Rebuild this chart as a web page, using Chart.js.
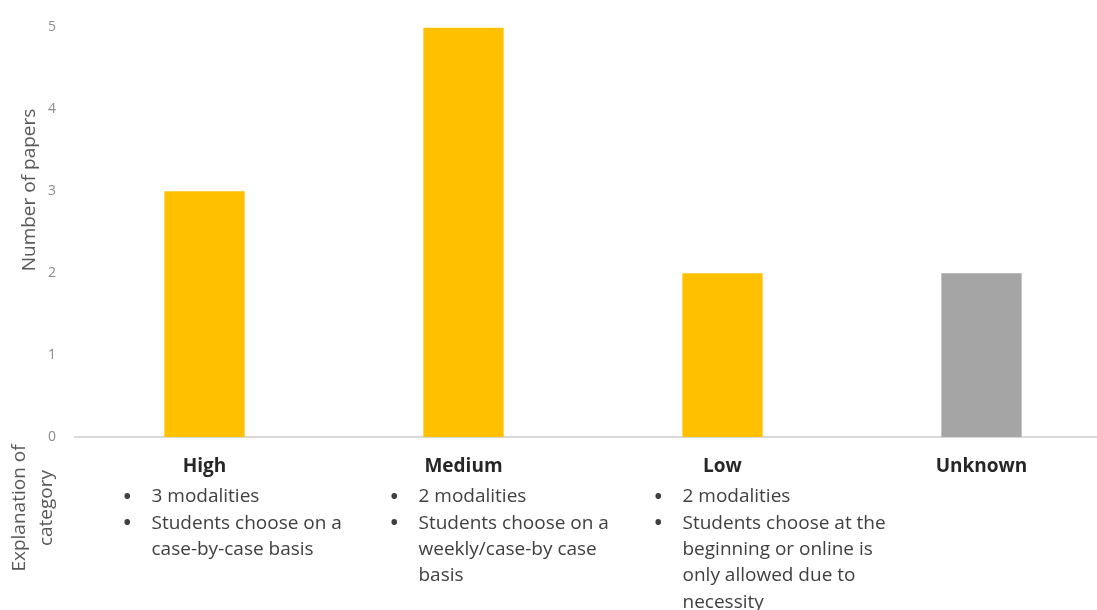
<!DOCTYPE html>
<html>
<head>
<meta charset="utf-8">
<script src="https://cdn.jsdelivr.net/npm/chart.js@4.4.1/dist/chart.umd.min.js"></script>
<style>
  html, body { margin: 0; padding: 0; background: #fff; overflow: hidden; }
  #wrap { width: 1115px; height: 610px; }
</style>
</head>
<body>
<div id="wrap"><canvas id="papersChart"></canvas></div>
<script>
// Categories and counts
let categories = ["High", "Medium", "Low", "Unknown"];
let paperCounts = [3, 5, 2, 2];
let barColors = ["#FFC000", "#FFC000", "#FFC000", "#A5A5A5"];
let yTicks = [0, 1, 2, 3, 4, 5];

// Explanation lines under each category (each entry is one bullet)
let explanations = [
  [["3 modalities"], ["Students choose on a", "case-by-case basis"]],
  [["2 modalities"], ["Students choose on a", "weekly/case-by case", "basis"]],
  [["2 modalities"], ["Students choose at the", "beginning or online is", "only allowed due to", "necessity"]],
  [],
];

// Draws the bullet lists, the y title and the rotated "Explanation of category" label
const explanationPlugin = {
  id: "explanations",
  afterDraw(chart, args, opts) {
    let ctx = chart.ctx;
    let xScale = chart.scales.x;
    ctx.save();
    ctx.fillStyle = "#404040";
    ctx.textBaseline = "middle";
    ctx.textAlign = "left";
    explanations.forEach((bullets, i) => {
      let cx = xScale.getPixelForValue(i);
      let textX = cx + opts.indent[i];
      let y = opts.firstLineY;
      bullets.forEach((lines) => {
        ctx.font = "bold 20px 'Open Sans'";
        ctx.fillText("•", textX - 28, y);
        ctx.font = "19px 'Open Sans'";
        lines.forEach((line) => {
          ctx.fillText(line, textX, y);
          y += opts.lineHeight;
        });
      });
    });
    ctx.restore();

    // y axis title
    ctx.save();
    ctx.translate(30, 190);
    ctx.rotate(-Math.PI / 2);
    ctx.textAlign = "center";
    ctx.textBaseline = "middle";
    ctx.fillStyle = "#595959";
    ctx.font = "19px 'Open Sans'";
    ctx.fillText("Number of papers", 0, 0);
    ctx.restore();

    // side label under the axis
    ctx.save();
    ctx.translate(33, 508);
    ctx.rotate(-Math.PI / 2);
    ctx.textAlign = "center";
    ctx.textBaseline = "middle";
    ctx.fillStyle = "#595959";
    ctx.font = "19px 'Open Sans'";
    ctx.fillText("Explanation of", 0, -13);
    ctx.fillText("category", 0, 14);
    ctx.restore();
  },
};

let papersCtx = document.getElementById("papersChart").getContext("2d");
let papersChart = new Chart(papersCtx, {
  type: "bar",
  data: {
    labels: categories,
    datasets: [
      {
        label: "Number of papers",
        data: paperCounts,
        backgroundColor: barColors,
        barPercentage: 0.31,
        categoryPercentage: 1,
      },
    ],
  },
  options: {
    responsive: true,
    maintainAspectRatio: false,
    animation: false,
    layout: {
      padding: { top: 19, right: 4, left: 0, bottom: 0 },
    },
    scales: {
      x: {
        grid: { display: false, drawTicks: false },
        border: { display: true, color: "#D9D9D9", width: 2 },
        ticks: {
          padding: 18,
          color: "#262626",
          font: { family: "'Open Sans'", size: 19, weight: "bold" },
          maxRotation: 0,
        },
        afterFit(scale) {
          scale.height = 173;
        },
      },
      y: {
        min: 0,
        max: 5,
        grid: { display: false, drawTicks: false },
        border: { display: false },
        afterBuildTicks(scale) {
          scale.ticks = yTicks.map((v) => ({ value: v }));
        },
        ticks: {
          padding: 19,
          color: "#8C8C8C",
          font: { family: "'Open Sans'", size: 14 },
        },
        afterFit(scale) {
          scale.width = 75;
        },
      },
    },
    plugins: {
      legend: { display: false },
      tooltip: { enabled: false },
      explanations: {
        indent: [-53, -45, -40, 0],
        firstLineY: 497,
        lineHeight: 26.3,
      },
    },
  },
  plugins: [explanationPlugin],
});
</script>
</body>
</html>
